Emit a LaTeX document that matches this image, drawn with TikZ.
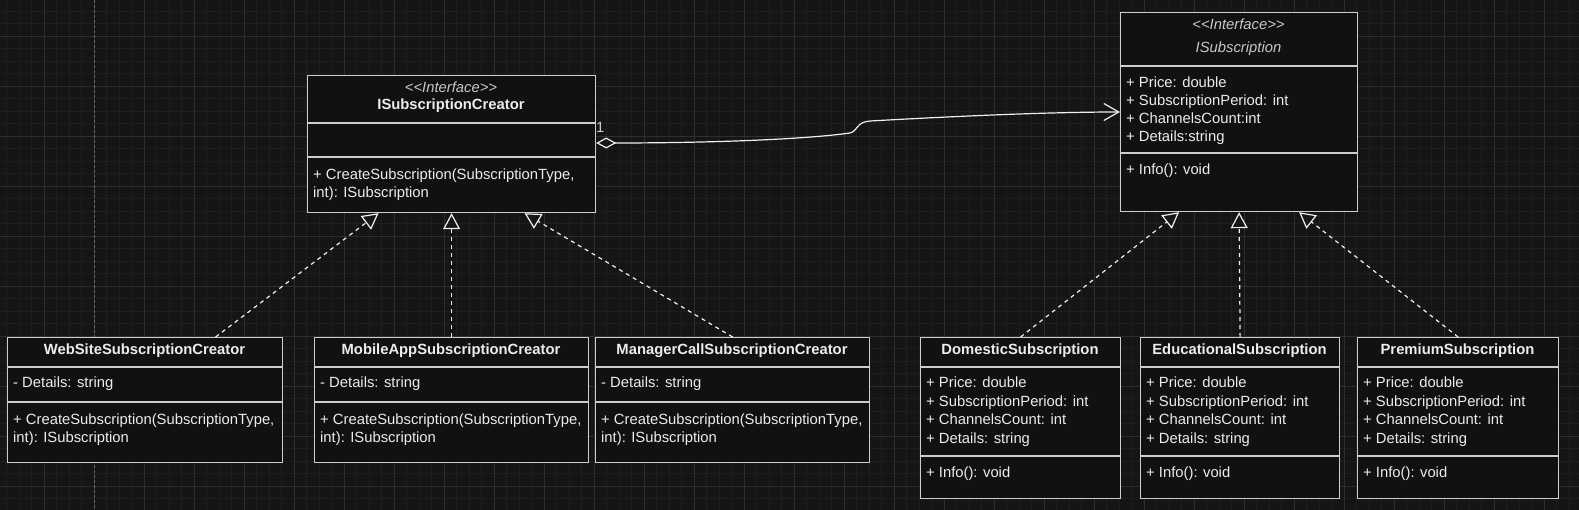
\documentclass[tikz,border=0pt]{standalone}
\usepackage{fontspec}
\setmainfont{Liberation Sans}
\usepackage{xcolor}
\usepackage{tikz}
\usetikzlibrary{arrows.meta, positioning, calc}
\definecolor{canvas}{RGB}{21,21,21}
\definecolor{minorline}{RGB}{30,30,30}
\definecolor{majorline}{RGB}{46,46,46}
\definecolor{boxfill}{RGB}{17,17,17}
\definecolor{edgegrey}{RGB}{205,205,205}
\definecolor{wire}{RGB}{240,240,240}
\definecolor{textwhite}{RGB}{236,236,236}
\definecolor{textgrey}{RGB}{200,200,200}
\tikzstyle{umlclass} = [rectangle, draw=edgegrey, fill=boxfill, line width=1.2pt, inner sep=0pt, anchor=north west]
\tikzstyle{classname} = [font=\fontsize{14.8}{17}\selectfont\bfseries, text=textwhite, inner sep=0pt, anchor=base]
\tikzstyle{stereo} = [font=\fontsize{14.8}{17}\selectfont\itshape, text=textgrey, inner sep=0pt, anchor=base]
\tikzstyle{member} = [font=\fontsize{14.8}{17}\selectfont, text=textwhite, inner sep=0pt, anchor=base west]
\tikzstyle{divider} = [draw=edgegrey, line width=1.2pt]
\tikzstyle{realize} = [draw=wire, line width=1.2pt, dash pattern=on 4pt off 4pt, -{Triangle[open, length=16pt, width=17pt]}]
\tikzstyle{aggregate} = [draw=wire, line width=1.2pt, {Diamond[open, length=20pt, width=11pt]}-{Straight Barb[length=15pt, width=17pt]}]
\tikzstyle{minorgrid} = [draw=minorline, line width=0.8pt]
\tikzstyle{majorgrid} = [draw=majorline, line width=0.8pt]
\tikzstyle{pagebreak} = [draw=black!60!white, line width=1pt, dash pattern=on 3pt off 2pt]

\begin{document}
\begin{tikzpicture}[x=1pt, y=-1pt]
	\fill[canvas] (0,0) rectangle (1579,510);
	\useasboundingbox (0,0) rectangle (1579,510);
	\foreach \gx in {0,...,125} \draw[minorgrid] ({6.5+12.5*\gx},0) -- ({6.5+12.5*\gx},510);
	\foreach \gy in {0,...,39} \draw[minorgrid] (0,{11+12.5*\gy}) -- (1579,{11+12.5*\gy});
	\foreach \gx in {0,...,30} \draw[majorgrid] ({44+50*\gx},0) -- ({44+50*\gx},510);
	\foreach \gy in {0,...,9} \draw[majorgrid] (0,{36+50*\gy}) -- (1579,{36+50*\gy});
	\draw[pagebreak] (94.5,0) -- (94.5,510);

	\node (creator) [umlclass, minimum width=288pt, minimum height=137pt] at (307,75) {};
	\draw[divider] ([yshift=-48pt]creator.north west) -- ([yshift=-48pt]creator.north east);
	\draw[divider] ([yshift=-82pt]creator.north west) -- ([yshift=-82pt]creator.north east);
	\node (creatorStereo) [stereo] at (451,93) {{<}{<}Interface{>}{>}};
	\node (creatorName) [classname] at (451,110) {ISubscriptionCreator};
	\node (creatorOp1) [member] at (313,180) {+ CreateSubscription(SubscriptionType,};
	\node (creatorOp2) [member] at (313,198) {int): ISubscription};

	\node (iface) [umlclass, minimum width=237pt, minimum height=199pt] at (1120,12) {};
	\draw[divider] ([yshift=-54pt]iface.north west) -- ([yshift=-54pt]iface.north east);
	\draw[divider] ([yshift=-141pt]iface.north west) -- ([yshift=-141pt]iface.north east);
	\node (ifaceStereo) [stereo] at (1238.5,30) {{<}{<}Interface{>}{>}};
	\node (ifaceName) [stereo] at (1238.5,53) {ISubscription};
	\node (ifaceAttr1) [member] at (1126,88) {+ Price: double};
	\node (ifaceAttr2) [member] at (1126,106) {+ SubscriptionPeriod: int};
	\node (ifaceAttr3) [member] at (1126,124) {+ ChannelsCount:int};
	\node (ifaceAttr4) [member] at (1126,142) {+ Details:string};
	\node (ifaceOp) [member] at (1126,175) {+ Info(): void};

	\node (web) [umlclass, minimum width=275pt, minimum height=125pt] at (7,337) {};
	\draw[divider] ([yshift=-30pt]web.north west) -- ([yshift=-30pt]web.north east);
	\draw[divider] ([yshift=-65pt]web.north west) -- ([yshift=-65pt]web.north east);
	\node (webName) [classname] at (144.5,355) {WebSiteSubscriptionCreator};
	\node (webAttr) [member] at (13,388) {- Details: string};
	\node (webOp1) [member] at (13,424) {+ CreateSubscription(SubscriptionType,};
	\node (webOp2) [member] at (13,442) {int): ISubscription};

	\node (mobile) [umlclass, minimum width=274pt, minimum height=125pt] at (314,337) {};
	\draw[divider] ([yshift=-30pt]mobile.north west) -- ([yshift=-30pt]mobile.north east);
	\draw[divider] ([yshift=-65pt]mobile.north west) -- ([yshift=-65pt]mobile.north east);
	\node (mobileName) [classname] at (451,355) {MobileAppSubscriptionCreator};
	\node (mobileAttr) [member] at (320,388) {- Details: string};
	\node (mobileOp1) [member] at (320,424) {+ CreateSubscription(SubscriptionType,};
	\node (mobileOp2) [member] at (320,442) {int): ISubscription};

	\node (manager) [umlclass, minimum width=274pt, minimum height=125pt] at (595,337) {};
	\draw[divider] ([yshift=-30pt]manager.north west) -- ([yshift=-30pt]manager.north east);
	\draw[divider] ([yshift=-65pt]manager.north west) -- ([yshift=-65pt]manager.north east);
	\node (managerName) [classname] at (732,355) {ManagerCallSubscriptionCreator};
	\node (managerAttr) [member] at (601,388) {- Details: string};
	\node (managerOp1) [member] at (601,424) {+ CreateSubscription(SubscriptionType,};
	\node (managerOp2) [member] at (601,442) {int): ISubscription};

	\node (domestic) [umlclass, minimum width=200pt, minimum height=161pt] at (920,337) {};
	\draw[divider] ([yshift=-30pt]domestic.north west) -- ([yshift=-30pt]domestic.north east);
	\draw[divider] ([yshift=-119pt]domestic.north west) -- ([yshift=-119pt]domestic.north east);
	\node (domesticName) [classname] at (1020,355) {DomesticSubscription};
	\node (domesticAttr1) [member] at (926,388) {+ Price: double};
	\node (domesticAttr2) [member] at (926,406.5) {+ SubscriptionPeriod: int};
	\node (domesticAttr3) [member] at (926,424.5) {+ ChannelsCount: int};
	\node (domesticAttr4) [member] at (926,443) {+ Details: string};
	\node (domesticOp) [member] at (926,477.5) {+ Info(): void};

	\node (educational) [umlclass, minimum width=199pt, minimum height=161pt] at (1140,337) {};
	\draw[divider] ([yshift=-30pt]educational.north west) -- ([yshift=-30pt]educational.north east);
	\draw[divider] ([yshift=-119pt]educational.north west) -- ([yshift=-119pt]educational.north east);
	\node (educationalName) [classname] at (1239.5,355) {EducationalSubscription};
	\node (educationalAttr1) [member] at (1146,388) {+ Price: double};
	\node (educationalAttr2) [member] at (1146,406.5) {+ SubscriptionPeriod: int};
	\node (educationalAttr3) [member] at (1146,424.5) {+ ChannelsCount: int};
	\node (educationalAttr4) [member] at (1146,443) {+ Details: string};
	\node (educationalOp) [member] at (1146,477.5) {+ Info(): void};

	\node (premium) [umlclass, minimum width=201pt, minimum height=161pt] at (1357,337) {};
	\draw[divider] ([yshift=-30pt]premium.north west) -- ([yshift=-30pt]premium.north east);
	\draw[divider] ([yshift=-119pt]premium.north west) -- ([yshift=-119pt]premium.north east);
	\node (premiumName) [classname] at (1457.5,355) {PremiumSubscription};
	\node (premiumAttr1) [member] at (1363,388) {+ Price: double};
	\node (premiumAttr2) [member] at (1363,406.5) {+ SubscriptionPeriod: int};
	\node (premiumAttr3) [member] at (1363,424.5) {+ ChannelsCount: int};
	\node (premiumAttr4) [member] at (1363,443) {+ Details: string};
	\node (premiumOp) [member] at (1363,477.5) {+ Info(): void};

	\draw [realize] ([xshift=70.5pt]web.north) -- ([xshift=-73pt]creator.south);
	\draw [realize] (mobile.north) -- (creator.south);
	\draw [realize] (manager.north) -- ([xshift=73pt]creator.south);
	\draw [realize] (domestic.north) -- ([xshift=-60pt]iface.south);
	\draw [realize] (educational.north) -- (iface.south);
	\draw [realize] (premium.north) -- ([xshift=60pt]iface.south);
	\draw [aggregate] ([yshift=-68pt]creator.north east) .. controls (700,143) and (800,140) .. (850,133) .. controls (858,131) and (856,122) .. (870,121) .. controls (960,116) and (1050,112) .. ([yshift=-100pt]iface.north west);
	\node (mult) [member, text=textgrey] at (596,133) {1};
\end{tikzpicture}
\end{document}
